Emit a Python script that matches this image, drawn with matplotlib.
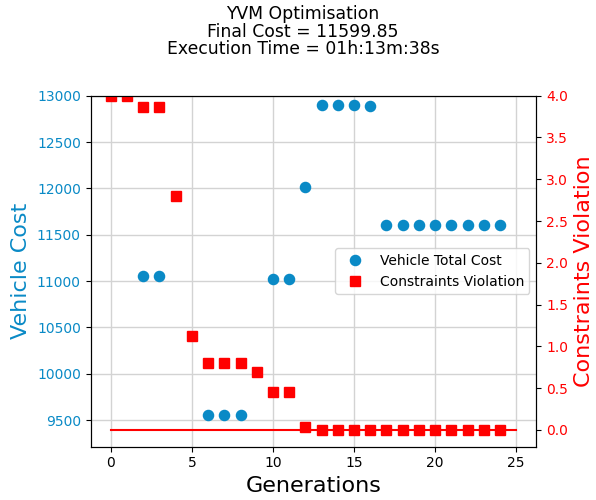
import numpy as np
import matplotlib
matplotlib.use("Agg")
import matplotlib.pyplot as plt

generations = list(range(25))
vehicle_cost = [np.nan, np.nan, 11050, 11050, np.nan, np.nan, 9550, 9550, 9550, np.nan,
                11020, 11020, 12015, 12900, 12900, 12900, 12890, 11600, 11600, 11600,
                11600, 11600, 11600, 11600, 11600]
violation = [4.0, 4.0, 3.86, 3.86, 2.8, 1.12, 0.8, 0.8, 0.8, 0.69,
             0.45, 0.45, 0.03, 0, 0, 0, 0, 0, 0, 0, 0, 0, 0, 0, 0]
threshold_x = [0, 25]
threshold_y = [0, 0]

blue = "#0a8ac6"
red = "#ff0000"

fig = plt.figure(figsize=(5.96, 5.0), dpi=100)
ax1 = fig.add_axes([0.152, 0.1066, 0.748, 0.702])
ax2 = ax1.twinx()

l1, = ax1.plot(generations, vehicle_cost, 'o', color=blue, markersize=7.3,
               linestyle='none', label='Vehicle Total Cost')
ax1.grid(True, color='#d3d3d3', linewidth=1)
ax1.set_axisbelow(True)
l2, = ax2.plot(generations, violation, 's', color=red, markersize=7.3,
               linestyle='none', label='Constraints Violation')
ax2.plot(threshold_x, threshold_y, '-', color=red, linewidth=1.5)

ax1.set_xlim(-1.25, 26.25)
ax1.set_ylim(9212, 13000)
ax2.set_ylim(-0.2, 4.0)
ax1.set_xticks([0, 5, 10, 15, 20, 25])
ax1.set_yticks(list(range(9500, 13001, 500)))
ax2.set_yticks([0.0, 0.5, 1.0, 1.5, 2.0, 2.5, 3.0, 3.5, 4.0])

ax1.tick_params(axis='y', color='black')
for t in ax1.get_yticklabels():
    t.set_color(blue)
ax2.tick_params(axis='y', color='black')
for t in ax2.get_yticklabels():
    t.set_color(red)

ax1.set_xlabel('Generations', fontsize=16)
ax1.set_ylabel('Vehicle Cost', fontsize=16, color=blue)
ax2.set_ylabel('Constraints Violation', fontsize=16, color=red)

ax2.legend(handles=[l1, l2], loc='center right', fontsize=10)

fig.text(303/596, 0.99, 'YVM Optimisation\nFinal Cost = 11599.85\nExecution Time = 01h:13m:38s',
         ha='center', va='top', fontsize=12.4, linespacing=0.98)

fig.savefig('out.png', dpi=100)
